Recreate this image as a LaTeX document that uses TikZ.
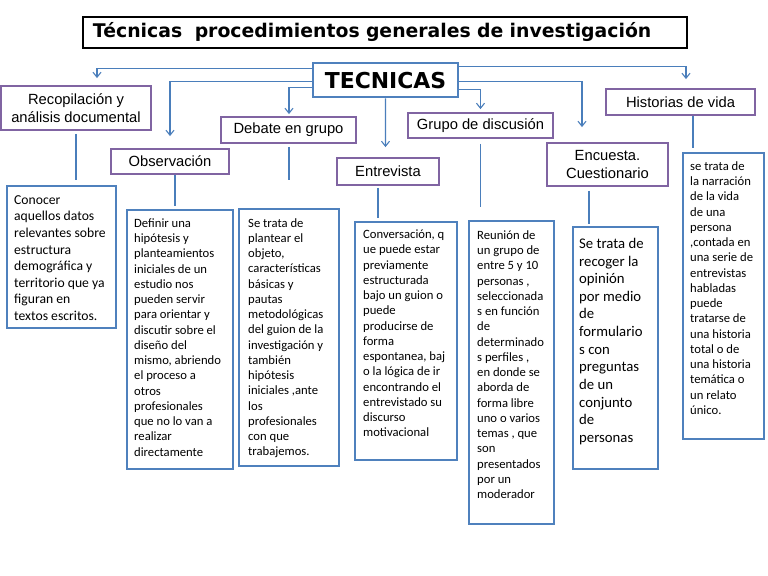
\documentclass[tikz,border=0pt]{standalone}
\usepackage{fontspec}
\setmainfont{Liberation Sans}
\newfontfamily\calibri{Carlito}
\newfontfamily\heavy{DejaVu Sans}
\usepackage{tikz}
\usetikzlibrary{arrows.meta}
\usepackage{xcolor}
\definecolor{boxblue}{RGB}{79,129,189}
\definecolor{headpurple}{RGB}{128,100,162}
\definecolor{lineblue}{RGB}{74,126,187}
\newcommand{\heading}[6] {
    \node[head,minimum width=#4bp,minimum height=#5bp] (#1) at (#2, #3) {#6};
}
\newcommand{\descbox}[7][] {
    \node[desc,minimum width=#5bp,minimum height=#6bp] (#2) at (#3, #4) {};
    \node[desctext,#1] (#2-txt) at ([xshift=8bp,yshift=-9.5bp]#2.north west) {#7};
}

\begin{document}
\begin{tikzpicture}[
        x=1bp, y=-1bp,
        head/.style={draw=headpurple,line width=1.8bp,inner sep=0pt,align=center,
            font=\fontsize{14.8}{17.5}\selectfont},
        desc/.style={draw=boxblue,line width=2.4bp,inner sep=0pt,anchor=north west},
        desctext/.style={inner sep=0pt,anchor=north west,align=left,
            font=\calibri\fontsize{12.7}{15.3}\selectfont},
        titlebox/.style={draw=black,line width=2bp,minimum height=31bp,text width=584bp,
            inner xsep=10bp,align=left,font=\heavy\bfseries\fontsize{18.9}{22}\selectfont},
        tecbox/.style={draw=boxblue,line width=2bp,minimum width=145bp,minimum height=34bp,
            inner sep=0pt,font=\heavy\bfseries\fontsize{22}{26}\selectfont},
        link/.style={draw=lineblue,line width=1.1bp},
        tolink/.style={link,-{Straight Barb[length=5bp,width=8bp]}}
    ]
    \useasboundingbox[fill=white] (0,0) rectangle (768,576);
    % title
    \node[titlebox] (title) at (385,32.5) {Técnicas~~procedimientos generales de investigación};
    \node[tecbox] (tec) at (385.5,80.5) {TECNICAS};
    % techniques
    \heading{recop} {76}   {108}  {150}{44}{Recopilación y\\análisis documental}
    \heading{obs}   {170}  {161.5}{118}{25}{Observación}
    \heading{debate}{288.5}{130}  {135}{26}{Debate en grupo}
    \heading{entre} {388}  {171.5}{102}{27}{Entrevista}
    \heading{grupo} {480.5}{125.5}{145}{25}{Grupo de discusión}
    \heading{enc}   {607.5}{164.5}{121}{43}{Encuesta.\\Cuestionario}
    \heading{hist}  {680.5}{102}  {149}{26}{Historias de vida}
    % descriptions
    \descbox[font=\calibri\fontsize{13.7}{16.7}\selectfont,yshift=-0.6bp]{d1}{6}{185}{109}{142}
        {Conocer\\aquellos datos\\relevantes sobre\\estructura\\demográfica y\\territorio que ya\\figuran en\\textos escritos.}
    \descbox{d2}{126}{209}{106}{259}
        {Definir una\\hipótesis y\\planteamientos\\iniciales de un\\estudio nos\\pueden servir\\para orientar y\\discutir sobre el\\diseño del\\mismo, abriendo\\el proceso a\\otros\\profesionales\\que no lo van a\\realizar\\directamente}
    \descbox[xshift=2bp,yshift=-0.7bp]{d3}{238}{208}{100}{257}
        {Se trata de\\plantear el\\objeto,\\características\\básicas y\\pautas\\metodológicas\\del guion de la\\investigación y\\también\\hipótesis\\iniciales ,ante\\los\\profesionales\\con que\\trabajemos.}
    \descbox[xshift=1bp,yshift=0.7bp]{d4}{354}{221}{102}{238}
        {Conversación, q\\ue puede estar\\previamente\\estructurada\\bajo un guion o\\puede\\producirse de\\forma\\espontanea, baj\\o la lógica de ir\\encontrando el\\entrevistado su\\discurso\\motivacional}
    \descbox[xshift=1bp,yshift=-1bp]{d5}{468}{220}{85}{303}
        {Reunión de\\un grupo de\\entre 5 y 10\\personas ,\\seleccionada\\s en función\\de\\determinado\\s perfiles ,\\en donde se\\aborda de\\forma libre\\uno o varios\\temas , que\\son\\presentados\\por un\\moderador}
    \descbox[font=\calibri\fontsize{14.8}{17.7}\selectfont,xshift=-1bp,yshift=-2.5bp]{d6}{572}{226}{85}{242}
        {Se trata de\\recoger la\\opinión\\por medio\\de\\formulario\\s con\\preguntas\\de un\\conjunto\\de\\personas}
    \descbox{d7}{682}{152}{81}{286}
        {se trata de\\la narración\\de la vida\\de una\\persona\\,contada en\\una serie de\\entrevistas\\habladas\\puede\\tratarse de\\una historia\\total o de\\una historia\\temática o\\un relato\\único.}
    % arrows from TECNICAS
    \draw[tolink] ([yshift=12bp]tec.west) -| ([xshift=21bp,yshift=7bp]recop.north);
    \draw[tolink] ([yshift=-1bp]tec.west) -| ([yshift=12bp]obs.north);
    \draw[tolink] ([yshift=-7bp]tec.west) -| ([xshift=0.5bp,yshift=2bp]debate.north);
    \draw[tolink] (tec.south) -- ([xshift=-2.5bp,yshift=10bp]entre.north);
    \draw[tolink] ([yshift=14bp]tec.east) -| ([xshift=5.5bp,yshift=9bp]hist.north);
    \draw[tolink] ([yshift=-1bp]tec.east) -| ([xshift=-25.5bp,yshift=15bp]enc.north);
    \draw[tolink] ([yshift=-9bp]tec.east) -| ([yshift=3bp]grupo.north);
    % lines to descriptions
    \draw[link,shorten <=3bp,shorten >=5bp] (recop.south) -- (recop.south |- d1.north);
    \draw[link,shorten >=3bp] ([xshift=5bp]obs.south) -- ([xshift=5bp]obs.south |- d2.north);
    \draw[link,shorten <=3bp,shorten >=28bp] ([xshift=0.5bp]debate.south) -- ([xshift=0.5bp]debate.south |- d3.north);
    \draw[link,shorten <=2bp,shorten >=3bp] ([xshift=-10bp]entre.south) -- ([xshift=-10bp]entre.south |- d4.north);
    \draw[link,shorten <=5bp,shorten >=13bp] (grupo.south) -- (grupo.south |- d5.north);
    \draw[link,shorten <=4bp,shorten >=2bp] ([xshift=-18.5bp]enc.south) -- ([xshift=-18.5bp]enc.south |- d6.north);
    \draw[link,shorten >=4bp] ([xshift=12.5bp]hist.south) -- ([xshift=12.5bp]hist.south |- d7.north);
\end{tikzpicture}
\end{document}
